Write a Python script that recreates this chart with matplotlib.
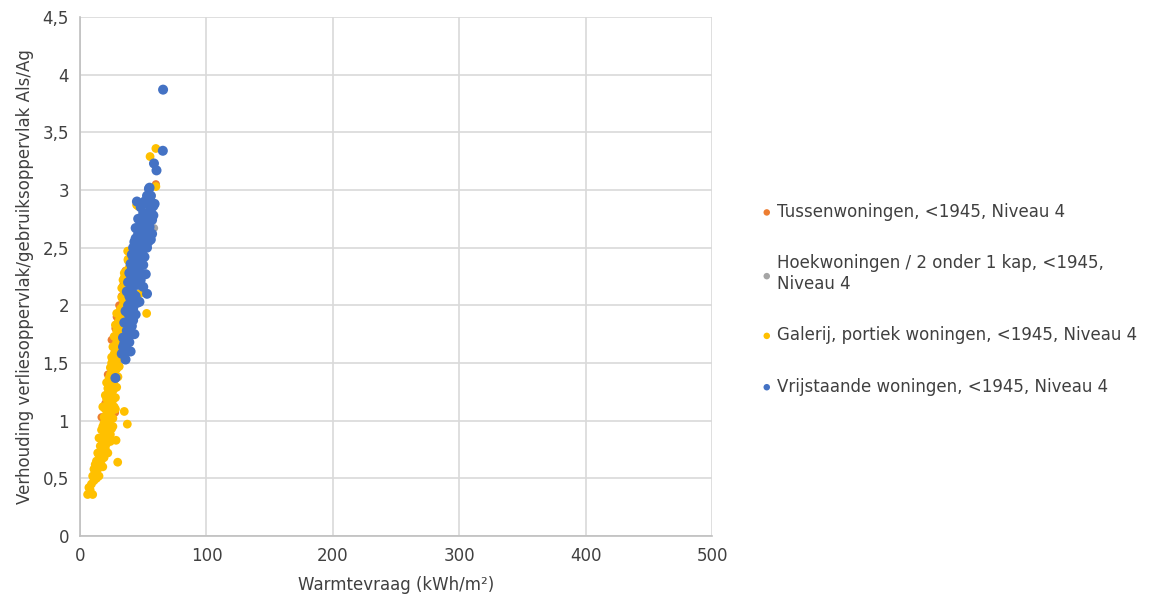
import matplotlib
matplotlib.use("Agg")
import matplotlib.pyplot as plt
from matplotlib.ticker import FuncFormatter

# ---- DATA
labels = ['Tussenwoningen, <1945, Niveau 4',
          'Hoekwoningen / 2 onder 1 kap, <1945,\nNiveau 4',
          'Galerij, portiek woningen, <1945, Niveau 4',
          'Vrijstaande woningen, <1945, Niveau 4']
colors = ['#ED7D31', '#A5A5A5', '#FFC000', '#4472C4']

tussen_x = [60, 34, 33, 29, 25, 27.7, 17, 22, 31, 36, 40, 26, 28, 24, 20, 45, 50, 38, 30, 42]
tussen_y = [3.05, 2.17, 2.08, 1.90, 1.70, 1.07, 1.03, 1.40, 2.00, 2.30, 2.45, 1.55, 1.80, 1.30, 1.15,
            2.60, 2.75, 2.05, 1.65, 2.35]

hoek_x = [58.8, 50, 39.6, 45, 42, 36, 33, 31, 38, 55, 52, 47, 35, 44, 40, 30, 57, 34, 48, 32, 37]
hoek_y = [2.67, 2.88, 2.31, 2.50, 2.20, 1.95, 1.80, 1.60, 2.15, 2.85, 2.60, 2.45, 1.75, 2.30, 2.05,
          1.50, 2.95, 1.70, 2.65, 1.70, 2.00]

galerij_x = [6, 10, 7, 9, 11, 13, 12, 15, 14, 16, 13, 17, 15, 19, 18, 16, 20, 21, 17, 19, 22, 24,
             20, 23, 18, 25, 21, 23, 19, 26, 22, 24, 20, 27, 23, 25, 21, 28, 24, 26, 22, 29, 25, 27,
             23, 30, 26, 28, 24, 31, 27, 29, 25, 32, 28, 30, 26, 33, 29, 31, 27, 34, 30, 32, 28, 35,
             31, 33, 29, 36, 32, 34, 37, 33, 35, 38, 36, 34, 39, 37, 40, 38, 41, 43, 45,
             29.8, 28.5, 37.4, 35, 52.7, 46, 60, 55.4, 60, 47, 37.7, 44.8, 38, 35,
             14, 16, 18, 15, 20, 17, 22, 19, 24, 21, 18, 23, 25, 20, 22, 26, 23, 25, 21, 27,
             24, 26, 28, 25, 29, 27, 31, 28, 30, 32, 29, 33, 31, 35, 30, 34, 36, 33, 37, 35,
             39, 12, 11, 10, 8, 18, 22, 24, 26, 28]
galerij_y = [0.36, 0.36, 0.42, 0.45, 0.48, 0.50, 0.55, 0.52, 0.58, 0.62, 0.65, 0.66, 0.70, 0.68,
             0.74, 0.78, 0.76, 0.80, 0.84, 0.87, 0.85, 0.82, 0.92, 0.90, 0.95, 0.93, 0.98, 1.00,
             1.03, 1.02, 1.06, 1.09, 1.10, 1.12, 1.14, 1.17, 1.19, 1.20, 1.23, 1.26, 1.28, 1.29,
             1.32, 1.35, 1.37, 1.38, 1.41, 1.44, 1.46, 1.47, 1.50, 1.53, 1.55, 1.56, 1.59, 1.62,
             1.64, 1.65, 1.68, 1.71, 1.73, 1.74, 1.77, 1.80, 1.83, 1.84, 1.87, 1.90, 1.93, 1.94,
             1.97, 2.00, 2.03, 2.07, 2.10, 2.13, 2.17, 2.22, 2.25, 2.30, 2.35, 2.40, 2.45, 2.50,
             2.55, 0.64, 0.83, 0.97, 1.08, 1.93, 2.86, 3.36, 3.29, 3.03, 2.10, 2.47, 2.87, 2.39, 2.24,
             0.72, 0.68, 0.80, 0.85, 0.88, 0.92, 0.95, 0.98, 1.02, 1.05, 1.12, 1.10, 1.08, 1.22,
             1.16, 1.18, 1.25, 1.30, 1.33, 1.28, 1.40, 1.36, 1.40, 1.50, 1.45, 1.58, 1.55, 1.65,
             1.70, 1.72, 1.78, 1.82, 1.92, 1.98, 1.85, 2.05, 2.08, 2.15, 2.20, 2.28, 2.33, 0.62,
             0.58, 0.52, 0.40, 0.60, 0.72, 0.88, 0.95, 1.10]

vrij_x = [65.7, 65.5, 58.5, 60.5, 54.5, 53, 55, 58, 52, 56, 50, 54, 57, 52, 48, 55, 50, 53, 46, 49,
          55, 44, 51, 47, 42, 53, 45, 49, 41, 51, 44, 47, 40, 50, 43, 46, 39, 52, 42, 48, 38, 45,
          50, 41, 37, 53, 44, 40, 47, 38, 42, 36, 44, 39, 35, 41, 37, 43, 34, 39, 36, 40, 33, 36,
          28, 56, 59,
          45, 48, 51, 46, 49, 44, 52, 47, 43, 50, 46, 42, 48, 45, 41, 47, 43, 40, 46, 42, 39, 45,
          41, 38, 42, 37, 40, 38, 35, 37, 34, 56, 57, 54, 58, 55, 53, 51]
vrij_y = [3.87, 3.34, 3.23, 3.17, 3.01, 2.95, 2.92, 2.86, 2.88, 2.83, 2.80, 2.77, 2.74, 2.72, 2.70,
          2.68, 2.66, 2.63, 2.62, 2.59, 2.57, 2.58, 2.55, 2.53, 2.50, 2.50, 2.47, 2.45, 2.44, 2.42,
          2.40, 2.38, 2.36, 2.35, 2.33, 2.30, 2.28, 2.27, 2.25, 2.22, 2.20, 2.18, 2.16, 2.14, 2.12,
          2.10, 2.08, 2.05, 2.03, 2.00, 1.97, 1.95, 1.92, 1.88, 1.85, 1.82, 1.78, 1.75, 1.72, 1.68,
          1.63, 1.60, 1.58, 1.53, 1.37, 2.57, 2.88,
          2.90, 2.85, 2.78, 2.75, 2.72, 2.67, 2.65, 2.58, 2.55, 2.52, 2.48, 2.42, 2.40, 2.36, 2.32,
          2.28, 2.23, 2.22, 2.18, 2.10, 2.08, 2.02, 1.98, 1.93, 1.87, 1.85, 1.75, 1.70, 1.67, 1.60,
          1.64, 2.95, 2.62, 2.55, 2.78, 3.02, 2.72, 2.90]

series_x = [tussen_x, hoek_x, galerij_x, vrij_x]
series_y = [tussen_y, hoek_y, galerij_y, vrij_y]
sizes = [34, 30, 40, 52]

x_ticks = [0, 100, 200, 300, 400, 500]
y_ticks = [0, 0.5, 1, 1.5, 2, 2.5, 3, 3.5, 4, 4.5]

# ---- PLOT
plt.rcParams['font.family'] = ['DejaVu Sans']
text_col = '#404040'

fig = plt.figure(figsize=(11.65, 6.02), dpi=100)
ax = fig.add_axes([0.0687, 0.1096, 0.5425, 0.8622])

for xs, ys, c, s, lab in zip(series_x, series_y, colors, sizes, labels):
    ax.scatter(xs, ys, s=s, color=c, edgecolors='none', label=lab, zorder=3)

ax.set_xlim(0, 500)
ax.set_ylim(0, 4.5)
ax.set_xticks(x_ticks)
ax.set_yticks(y_ticks)
ax.yaxis.set_major_formatter(FuncFormatter(lambda v, p: ('%g' % v).replace('.', ',')))
ax.grid(True, color='#D9D9D9', linewidth=1.2, zorder=0)
ax.set_axisbelow(True)
for side in ['top', 'right']:
    ax.spines[side].set_visible(False)
for side in ['left', 'bottom']:
    ax.spines[side].set_color('#BFBFBF')
    ax.spines[side].set_linewidth(1.2)
ax.tick_params(length=0, labelsize=12, labelcolor=text_col, pad=8)

ax.set_xlabel('Warmtevraag (kWh/m²)', fontsize=12, color=text_col, labelpad=8)
ax.set_ylabel('Verhouding verliesoppervlak/gebruiksoppervlak Als/Ag', fontsize=12,
              color=text_col, labelpad=6)

leg = fig.legend(loc='center left', bbox_to_anchor=(0.641, 0.503), frameon=False,
                 fontsize=12, handlelength=0.6, handletextpad=0.3, labelspacing=2.0,
                 labelcolor=text_col)
for h in leg.legend_handles:
    h.set_sizes([22])

fig.savefig('out.png', dpi=100)
